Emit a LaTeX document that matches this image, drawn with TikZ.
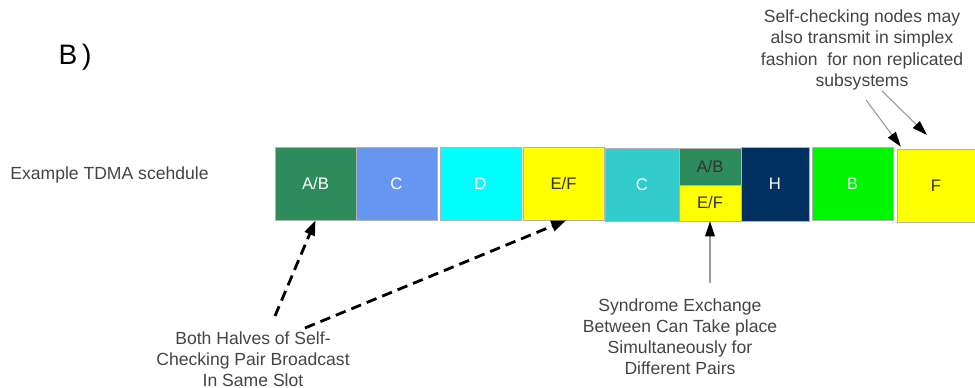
\documentclass[tikz,border=0pt]{standalone}
\usepackage{fontspec}
\setmainfont{Liberation Sans}
\usetikzlibrary{arrows.meta}
\definecolor{abgreen}{RGB}{46,139,92}
\definecolor{cblue}{RGB}{102,150,240}
\definecolor{dcyan}{RGB}{0,255,255}
\definecolor{efyellow}{RGB}{255,255,0}
\definecolor{cteal}{RGB}{51,204,204}
\definecolor{hnavy}{RGB}{0,48,96}
\definecolor{bgreen}{RGB}{0,245,0}
\definecolor{notegray}{RGB}{68,68,68}

\begin{document}
\begin{tikzpicture}[x=0.02cm, y=-0.02cm,
    slot/.style={draw=gray!60, line width=0.4pt, inner sep=0pt,
        minimum width=1.62cm, minimum height=1.46cm,
        font=\fontsize{9.5}{11}\selectfont},
    note/.style={align=center, text=notegray, inner sep=0pt,
        font=\fontsize{10}{12}\selectfont},
    pairarrow/.style={-{Triangle[length=8.5pt, width=6pt]}, line width=1.6pt,
        dash pattern=on 6pt off 3.5pt},
    thinarrow/.style={-{Triangle[length=8.5pt, width=5.5pt, color=black]},
        draw=gray!80, line width=0.6pt}]
        \useasboundingbox (0,0) rectangle (975,388);

        % Titles
        \node[font=\fontsize{16}{18}\selectfont] (title) at (75,57) {B\,)};
        \node[note, anchor=west] (rowlabel) at (10,175) {Example TDMA scehdule};

        % TDMA slots
        \node[slot, fill=abgreen, text=white] (ab1) at (315.5,183.5) {A/B};
        \node[slot, fill=cblue, text=white] (c1) at (396.5,183.5) {C};
        \node[slot, fill=dcyan, text=white] (d) at (480.5,183.5) {D};
        \node[slot, fill=efyellow, text=black!80] (ef1) at (563.5,183.5) {E/F};
        \node[slot, fill=cteal, text=white, minimum width=1.48cm] (c2) at (642,184.5) {C};
        \node[slot, fill=abgreen, text=black!80, minimum width=1.24cm,
            minimum height=0.74cm] (ab2) at (710,166.5) {A/B};
        \node[slot, fill=efyellow, text=black!80, minimum width=1.24cm,
            minimum height=0.72cm] (ef2) at (710,203) {E/F};
        \node[slot, fill=hnavy, text=white, minimum width=1.36cm,
            minimum height=1.48cm] (h) at (775,184) {H};
        \node[slot, fill=bgreen, text=green!15] (b) at (852.5,183.5) {B};
        \node[slot, fill=efyellow, text=black!80, minimum width=1.56cm] (f) at (936,185.5) {F};

        % Notes
        \node[note] (simplex) at (862,50) {Self-checking nodes may\\also transmit in simplex\\fashion\ \ for non replicated\\subsystems};
        \node[note] (pair) at (253,359) {Both Halves of Self-\\Checking Pair Broadcast\\In Same Slot};
        \node[note] (synd) at (680,337) {Syndrome Exchange\\Between Can Take place\\Simultaneously for\\Different Pairs};

        % Arrows from the notes
        \coordinate (pairA) at (275,316);
        \coordinate (pairB) at (305,328);
        \draw[pairarrow] (pairA) -- (ab1.south);
        \draw[pairarrow] (pairB) -- ([xshift=1.5]ef1.south);

        \coordinate (syndA) at (710,283);
        \draw[thinarrow] (syndA) -- (ef2.south);

        \coordinate (simA) at (866,100);
        \coordinate (simB) at (882,91);
        \coordinate (simF) at (927,135);
        \draw[thinarrow] (simA) -- ([xshift=27.5]b.north);
        \draw[thinarrow] (simB) -- (simF);
    \end{tikzpicture}
\end{document}
